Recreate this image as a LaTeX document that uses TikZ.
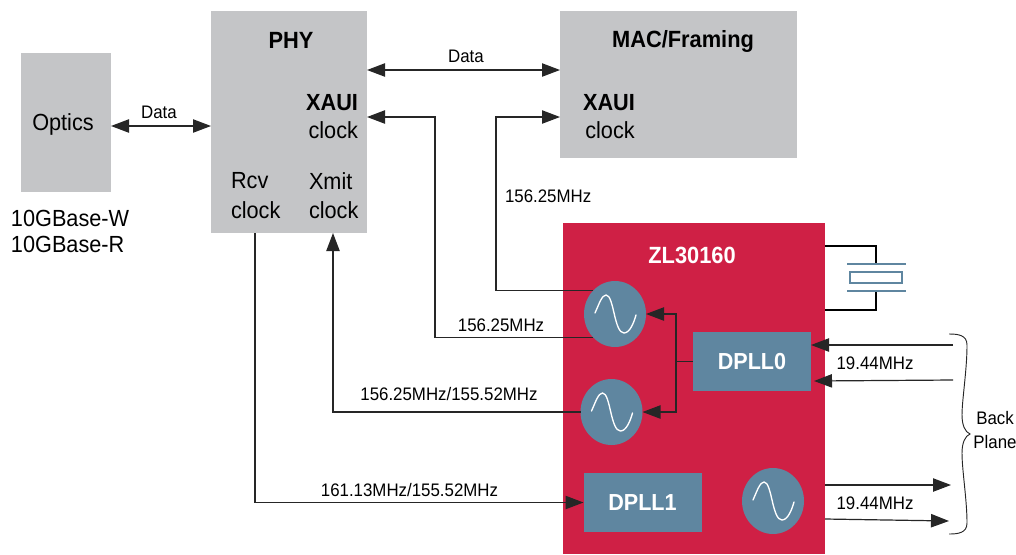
\documentclass[tikz,border=0pt]{standalone}
\usepackage{fontspec}
\setmainfont{Liberation Sans}[FakeStretch=0.93]
\usetikzlibrary{arrows.meta,shapes.geometric}
\definecolor{chipred}{HTML}{CF2045}
\definecolor{steel}{HTML}{5F86A0}
\definecolor{panel}{HTML}{C4C5C7}
\tikzset{
  x=0.75pt,y=-0.75pt,
  panelbox/.style={fill=panel,draw=none,inner sep=0,outer sep=0},
  chipbox/.style={fill=chipred,draw=none,inner sep=0,outer sep=0},
  blockbox/.style={fill=steel,draw=none,inner sep=0,outer sep=0,text=white,font=\fontsize{17.4}{20}\selectfont\bfseries,minimum width=88.5pt,minimum height=44.25pt},
  oscnode/.style={ellipse,fill=steel,draw=none,inner sep=0,outer sep=0,minimum width=46.5pt,minimum height=49.5pt},
  wire/.style={line width=0.9pt,draw=black!85},
  sig/.style={wire,-{Triangle[length=13.5pt,width=10pt]}},
  bisig/.style={wire,{Triangle[length=13.5pt,width=10pt]}-{Triangle[length=13.5pt,width=10pt]}},
  heavy/.style={line width=1.5pt,draw=black},
  lab/.style={inner sep=0,outer sep=0,font=\fontsize{17.5}{20}\selectfont},
  small/.style={inner sep=0,outer sep=0,font=\fontsize{13.6}{16}\selectfont},
  title/.style={inner sep=0,outer sep=0,font=\fontsize{17.6}{20}\selectfont\bfseries},
  whitetitle/.style={title,text=white},
  sinecurve/.style={white,line width=1pt,line cap=round},
  plate/.style={steel,line width=1.5pt},
}
\newcommand{\sinewave}[1]{%
  \begin{scope}[shift={(#1)}]
    \draw[sinecurve] (-20,-1) .. controls (-16,-10) and (-13,-19) .. (-9,-19)
      .. controls (-1,-19) and (-1,19) .. (9,19)
      .. controls (15,19) and (19,8) .. (21,1);
  \end{scope}}
\begin{document}
\begin{tikzpicture}
\useasboundingbox (0,0) rectangle (1016,554);
% boxes
\node[panelbox,minimum width=67.5pt,minimum height=104.25pt] (optics) at (66,122.5) {};
\node[panelbox,minimum width=117pt,minimum height=166.5pt] (phy) at (289,122) {};
\node[panelbox,minimum width=177.75pt,minimum height=110.25pt] (mac) at (678.5,84.5) {};
\node[chipbox,minimum width=196.5pt,minimum height=248.25pt] (chip) at (694,388.5) {};
\node[blockbox] (dpll0) at (752,361.5) {DPLL0};
\node[blockbox] (dpll1) at (642.5,502.5) {DPLL1};
\node[oscnode] (osc1) at (615,314) {};
\node[oscnode] (osc2) at (611.5,412) {};
\node[oscnode] (osc3) at (773,501) {};
\sinewave{osc1}
\sinewave{osc2}
\sinewave{osc3}
% text
\node[title] (tphy) at (291,40) {PHY};
\node[title] (tmac) at (683,41) {MAC/Framing};
\node[lab,anchor=east] (xa1) at (358,102.5) {\textbf{XAUI}};
\node[lab,anchor=east] (xa2) at (358,130) {clock};
\node[lab] (xb1) at (609,102.5) {\textbf{XAUI}};
\node[lab] (xb2) at (610,130) {clock};
\node[lab,anchor=west] (r1) at (231,181) {Rcv};
\node[lab,anchor=west] (r2) at (231,210) {clock};
\node[lab,anchor=west] (t1) at (309,181) {Xmit};
\node[lab,anchor=west] (t2) at (309,210) {clock};
\node[lab] (topt) at (63,124) {Optics};
\node[lab,anchor=west] (w1) at (11,218) {10GBase-W};
\node[lab,anchor=west] (w2) at (11,244) {10GBase-R};
\node[small] (d1) at (159,112) {Data};
\node[small] (d2) at (466,56) {Data};
\node[small,anchor=west] (f1) at (505,196) {156.25MHz};
\node[small] (f2) at (501,325) {156.25MHz};
\node[small] (f3) at (449,394.5) {156.25MHz/155.52MHz};
\node[small] (f4) at (409.5,490.5) {161.13MHz/155.52MHz};
\node[small] (f5) at (875,363) {19.44MHz};
\node[small] (f6) at (875,503) {19.44MHz};
\node[whitetitle] (tzl) at (692,255) {ZL30160};
\node[small,align=center] (bp) at (995,430) {Back\\[2pt]Plane};
% connectors
\coordinate (yd1) at (0,126);
\coordinate (yd2) at (0,70);
\coordinate (yx) at (0,117);
\coordinate (xa) at (435,0);
\coordinate (xb) at (496,0);
\coordinate (xr) at (255,0);
\coordinate (xt) at (333,0);
\coordinate (bus) at (676,0);
\draw[bisig] (optics.east |- yd1) -- (phy.west |- yd1);
\draw[bisig] (phy.east |- yd2) -- (mac.west |- yd2);
\draw[sig] (osc1.south west) -- (xa |- osc1.south west) -- (xa |- yx) -- (phy.east |- yx);
\draw[sig] (osc1.north west) -- (xb |- osc1.north west) -- (xb |- yx) -- (mac.west |- yx);
\draw[sig] (osc2.west) -- (xt |- osc2.west) -- (xt |- phy.south);
\draw[sig] (xr |- phy.south) -- (xr |- dpll1.west) -- (dpll1.west);
\draw[sig] (dpll0.west) -- (bus |- dpll0.west) -- (bus |- osc1.east) -- (osc1.east);
\draw[sig] (bus |- dpll0.west) -- (bus |- osc2.east) -- (osc2.east);
% crystal
\coordinate (c1) at (825,246);
\coordinate (c2) at (876,246);
\coordinate (c3) at (876,264);
\coordinate (c4) at (876,291);
\coordinate (c5) at (876,310);
\coordinate (c6) at (825,310);
\draw[heavy] (c1) -- (c2) -- (c3);
\draw[heavy] (c4) -- (c5) -- (c6);
\coordinate (pl1) at (847,264); \coordinate (pl2) at (906,264);
\coordinate (pl3) at (847,291); \coordinate (pl4) at (906,291);
\draw[plate] (pl1) -- (pl2);
\draw[plate] (pl3) -- (pl4);
\node[draw=steel,line width=1.5pt,fill=white,inner sep=0,minimum width=39pt,minimum height=8pt] (xtal) at (876,277.5) {};
% backplane signals
\coordinate (b1) at (953,345);
\coordinate (b2) at (953,380);
\coordinate (b3) at (951,485);
\coordinate (b4) at (949,521);
\coordinate (b5) at (825,485);
\coordinate (b6) at (825,519);
\coordinate (b7) at (811,345);
\coordinate (b8) at (814,381);
\draw[sig] (b1) -- (b7);
\draw[sig] (b2) -- (b8);
\draw[sig] (b5) -- (b3);
\draw[sig] (b6) -- (b4);
% brace
\coordinate (br1) at (949,334);
\coordinate (br2) at (949,534);
\draw[line width=0.7pt,black!85] (br1) .. controls (958,334) and (967,335) .. (967,345)
  .. controls (967,370) and (962,400) .. (962,415)
  .. controls (962,425) and (965,432) .. (970,434)
  .. controls (965,436) and (962,443) .. (962,453)
  .. controls (962,470) and (967,500) .. (967,523)
  .. controls (967,533) and (958,534) .. (br2);
\end{tikzpicture}
\end{document}
